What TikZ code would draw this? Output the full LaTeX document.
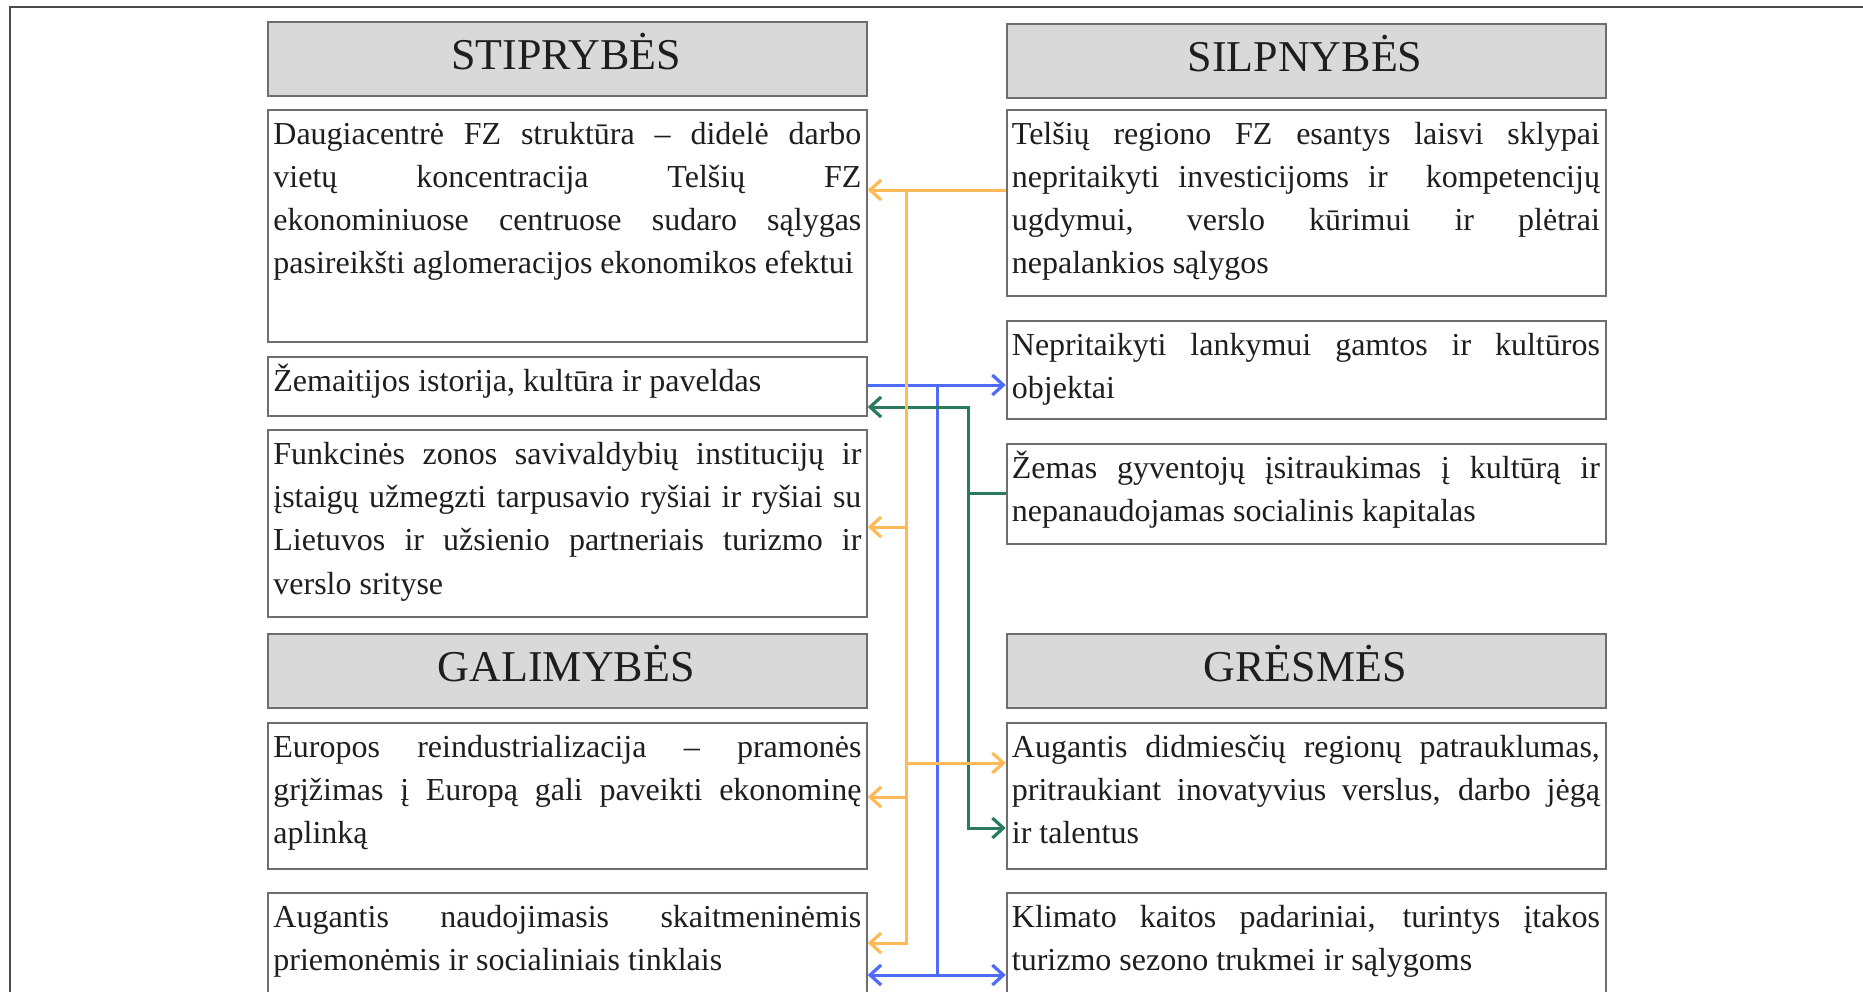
\documentclass[tikz,border=0pt]{standalone}
\usepackage{fontspec}
\setmainfont{Liberation Serif}
\usetikzlibrary{arrows.meta}
\definecolor{frameC}{HTML}{4A4A4A}
\definecolor{boxC}{HTML}{6E6E6E}
\definecolor{titleF}{HTML}{D9D9D9}
\definecolor{oraC}{HTML}{FFBA57}
\definecolor{bluC}{HTML}{4F6BFA}
\definecolor{grnC}{HTML}{2A7A5C}
\definecolor{txtC}{HTML}{1E1E1E}
\tolerance=10000\relax
\hyphenpenalty=10000\relax
\exhyphenpenalty=10000\relax
\begin{document}
\begin{tikzpicture}[x=0.5pt,y=-0.5pt,
  box/.style={draw=boxC, line width=1pt, rectangle, inner sep=0pt, anchor=north west, minimum width=299.5pt},
  titlebox/.style={box, fill=titleF},
  body/.style={anchor=base west, inner sep=0pt, text width=294pt, align=justify, text=txtC,
    font=\fontsize{16}{21.6}\selectfont},
  head/.style={anchor=base, inner sep=0pt, text=txtC, font=\fontsize{22}{26}\selectfont},
  conn/.style={line width=1.5pt, line join=miter},
  ora/.style={conn, draw=oraC},
  blu/.style={conn, draw=bluC},
  grn/.style={conn, draw=grnC},
  tip/.style={-{Straight Barb[length=5.5pt,width=10pt,line width=1.6pt]}},
  tipboth/.style={{Straight Barb[length=5.5pt,width=10pt,line width=1.6pt]}-{Straight Barb[length=5.5pt,width=10pt,line width=1.6pt]}}
]
\useasboundingbox (0,0) rectangle (1863,991);
\fill[white] (0,0) rectangle (1863,991);
% outer frame
\draw[frameC, line width=1.2pt] (1880,7) -- (10,7) -- (10,1010);

% title boxes
\node[titlebox, minimum height=37.15pt] (tS) at (266.7,20.7) {};
\node[titlebox, minimum height=37.3pt] (tW) at (1005.7,22.7) {};
\node[titlebox, minimum height=37pt] (tO) at (266.7,633) {};
\node[titlebox, minimum height=37pt] (tT) at (1005.7,633) {};
\node[head] (hS) at (566.2,69) {STIPRYBĖS};
\node[head] (hW) at (1305,71) {SILPNYBĖS};
\node[head] (hO) at (566.2,681) {GALIMYBĖS};
\node[head] (hT) at (1305,681) {GRĖSMĖS};

% content boxes
\node[box, minimum height=116pt] (l1) at (266.7,108.5) {};
\node[box, minimum height=93pt] (r1) at (1005.7,108.5) {};
\node[box, minimum height=29.75pt] (l2) at (266.7,355.5) {};
\node[box, minimum height=49pt] (r2) at (1005.7,320) {};
\node[box, minimum height=93.25pt] (l3) at (266.7,429) {};
\node[box, minimum height=49.75pt] (r3) at (1005.7,443) {};
\node[box, minimum height=73pt] (l4) at (266.7,722) {};
\node[box, minimum height=73pt] (r4) at (1005.7,722) {};
\node[box, minimum height=65pt] (l5) at (266.7,891.5) {};
\node[box, minimum height=65pt] (r5) at (1005.7,891.5) {};

% texts (baseline of first line about 35px below box top)
\node[body] (l1t) at (273,144) {Daugiacentrė FZ struktūra – didelė darbo\linebreak vietų koncentracija Telšių FZ\linebreak ekonominiuose centruose sudaro sąlygas\linebreak pasireikšti aglomeracijos ekonomikos efektui};
\node[body] (r1t) at (1011.5,144) {Telšių regiono FZ esantys laisvi sklypai\linebreak nepritaikyti investicijoms ir \ kompetencijų\linebreak ugdymui, verslo kūrimui ir plėtrai\linebreak nepalankios sąlygos};
\node[body] (l2t) at (273,391) {Žemaitijos istorija, kultūra ir paveldas};
\node[body] (r2t) at (1011.5,355.5) {Nepritaikyti lankymui gamtos ir kultūros\linebreak objektai};
\node[body] (l3t) at (273,464.5) {Funkcinės zonos savivaldybių institucijų ir\linebreak įstaigų užmegzti tarpusavio ryšiai ir ryšiai su\linebreak Lietuvos ir užsienio partneriais turizmo ir\linebreak verslo srityse};
\node[body] (r3t) at (1011.5,478.5) {Žemas gyventojų įsitraukimas į kultūrą ir\linebreak nepanaudojamas socialinis kapitalas};
\node[body] (l4t) at (273,757.5) {Europos reindustrializacija – pramonės\linebreak grįžimas į Europą gali paveikti ekonominę\linebreak aplinką};
\node[body] (r4t) at (1011.5,757.5) {Augantis didmiesčių regionų patrauklumas,\linebreak pritraukiant inovatyvius verslus, darbo jėgą\linebreak ir talentus};
\node[body] (l5t) at (273,927) {Augantis naudojimasis skaitmeninėmis\linebreak priemonėmis ir socialiniais tinklais};
\node[body] (r5t) at (1011.5,927) {Klimato kaitos padariniai, turintys įtakos\linebreak turizmo sezono trukmei ir sąlygoms};

% junction coordinates
\coordinate (oT) at (906,190);
\coordinate (oB) at (906,943);
\coordinate (o3) at (906,527);
\coordinate (o4r) at (906,763);
\coordinate (o4l) at (906,797);
\coordinate (bT) at (937,385);
\coordinate (bB) at (937,975);
\coordinate (gT) at (968,407);
\coordinate (gM) at (968,493);
\coordinate (gB) at (968,828);

% blue connectors
\draw[blu] (bT) -- (bB);
\draw[blu, tip] (l2.east |- bT) -- (r2.west |- bT);
\draw[blu, tipboth] (l5.east |- bB) -- (r5.west |- bB);

% green connectors
\draw[grn, tipboth] (l2.east |- gT) -- (gT) -- (gB) -- (r4.west |- gB);
\draw[grn] (r3.west |- gM) -- (gM);

% orange connectors
\draw[ora, tip] (r1.west |- oT) -- (l1.east |- oT);
\draw[ora, tip] (oT) -- (oB) -- (l5.east |- oB);
\draw[ora, tip] (o3) -- (l3.east |- o3);
\draw[ora, tip] (o4r) -- (r4.west |- o4r);
\draw[ora, tip] (o4l) -- (l4.east |- o4l);
\end{tikzpicture}
\end{document}
